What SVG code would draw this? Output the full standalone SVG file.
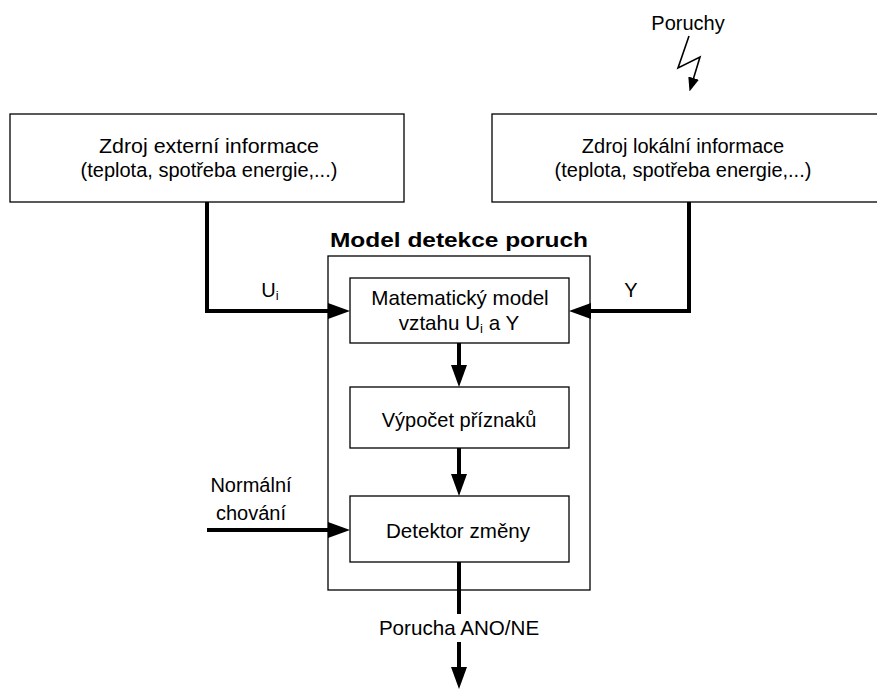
<svg xmlns="http://www.w3.org/2000/svg" width="877" height="689" viewBox="0 0 877 689">
<defs>
<style>
text{font-family:"Liberation Sans",Arial,sans-serif;font-size:20px;fill:#000;text-anchor:middle}
.box{fill:#fff;stroke:#000;stroke-width:1.3}
.c{fill:none;stroke:#000;stroke-width:4}
.t{font-weight:bold;font-size:21px}
.m{font-size:20.6px}
</style>
<marker id="ah" viewBox="0 0 22 16" refX="10" refY="8" markerWidth="22" markerHeight="16" markerUnits="userSpaceOnUse" orient="auto"><path d="M0,0 L22,8 L0,16 z" fill="#000"/></marker>
<marker id="ahs" viewBox="0 0 14 11" refX="2" refY="5.5" markerWidth="14" markerHeight="11" markerUnits="userSpaceOnUse" orient="auto"><path d="M0,0 L14,5.5 L0,11 z" fill="#000"/></marker>
</defs>
<rect width="877" height="689" fill="#fff"/>

<g id="outer">
<rect class="box" x="328" y="256" width="262" height="334"/>
<text class="t" x="459" y="247" textLength="258" lengthAdjust="spacingAndGlyphs">Model detekce poruch</text>
</g>

<g id="ext">
<rect class="box" x="10" y="114" width="394" height="88"/>
<text x="209" y="153" textLength="220" lengthAdjust="spacingAndGlyphs">Zdroj externí informace</text>
<text x="209" y="177">(teplota, spotřeba energie,...)</text>
</g>

<g id="loc">
<rect class="box" x="492" y="114" width="395" height="88"/>
<text x="683" y="153">Zdroj lokální informace</text>
<text x="683" y="177">(teplota, spotřeba energie,...)</text>
</g>

<g id="poruchy">
<text x="688" y="30">Poruchy</text>
</g>

<g id="model">
<rect class="box" x="350" y="278" width="219" height="65"/>
<text class="m" x="460" y="305">Matematický model</text>
<text class="m" x="459" y="330">vztahu U<tspan font-size="13" dy="3">i</tspan><tspan dy="-3"> a Y</tspan></text>
</g>

<g id="priznaky">
<rect class="box" x="350" y="387" width="219" height="61"/>
<text x="459" y="427">Výpočet příznaků</text>
</g>

<g id="detektor">
<rect class="box" x="350" y="496" width="219" height="66"/>
<text class="m" x="458" y="538">Detektor změny</text>
</g>

<g id="connectors">
<path d="M689,36 L678,68 L700,57 L693,80" fill="none" stroke="#000" stroke-width="1.6" marker-end="url(#ahs)"/>
<path class="c" d="M207,202 V311 H338" marker-end="url(#ah)"/>
<path class="c" d="M689,202 V311 H581" marker-end="url(#ah)"/>
<path class="c" d="M459,343 V375" marker-end="url(#ah)"/>
<path class="c" d="M459,448 V484" marker-end="url(#ah)"/>
<path class="c" d="M207,530 H338" marker-end="url(#ah)"/>
<path class="c" d="M459,562 V614"/>
<path class="c" d="M459,642 V677" marker-end="url(#ah)"/>
</g>

<g id="labels">
<text x="270" y="297">U<tspan font-size="13" dy="3">i</tspan></text>
<text x="631" y="297">Y</text>
<text x="251" y="492">Normální</text>
<text x="251" y="520">chování</text>
<text class="m" x="459" y="635">Porucha ANO/NE</text>
</g>
</svg>
